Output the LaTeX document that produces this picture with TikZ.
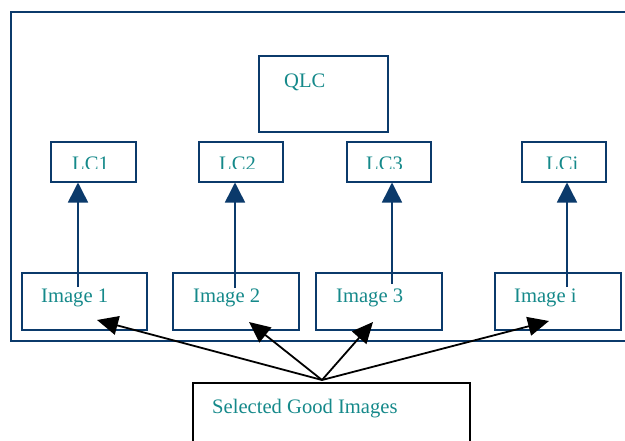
\documentclass[tikz,border=0pt]{standalone}
\usepackage{fontspec}
\setmainfont{Liberation Serif}
\usetikzlibrary{arrows.meta}
\definecolor{boxblue}{HTML}{0B3A6B}
\definecolor{tealtext}{HTML}{15898A}
\tikzset{
  outerframe/.style={draw=boxblue, line width=1.8pt, rectangle, inner sep=0pt, anchor=north west},
  box/.style={draw=boxblue, line width=1.5pt, rectangle, inner sep=0pt, anchor=north west},
  srcbox/.style={draw=black, line width=1.5pt, rectangle, inner sep=0pt, anchor=north west},
  lbl/.style={text=tealtext, font=\fontsize{20.6}{24}\selectfont, anchor=base west, inner sep=0pt},
  varrow/.style={draw=boxblue, line width=1.5pt, -{Triangle[length=20pt,width=20pt]}},
  karrow/.style={draw=black, line width=1.8pt, -{Triangle[length=21pt,width=19pt]}},
}
\begin{document}
\begin{tikzpicture}[x=1pt, y=-1pt]
\useasboundingbox (0,0) rectangle (625,440);
\clip (0,0) rectangle (625,440);

% enclosing frame (runs past the right edge)
\node[outerframe, minimum width=640pt, minimum height=329pt] (frame) at (10,11) {};

% top-level box
\node[box, minimum width=129pt, minimum height=76pt] (qlc) at (258,55) {};
\node[lbl] (qlct) at (284,87) {QLC};

% LC boxes
\node[box, minimum width=85pt, minimum height=40pt] (lc1) at (50,141) {};
\node[box, minimum width=84pt, minimum height=40pt] (lc2) at (198,141) {};
\node[box, minimum width=84pt, minimum height=40pt] (lc3) at (346,141) {};
\node[box, minimum width=84pt, minimum height=40pt] (lci) at (521,141) {};
\begin{scope}
  \clip (0,141) rectangle (625,168.5);
  \node[lbl] (lc1t) at (72,170) {LC1};
  \node[lbl] (lc2t) at (219,170) {LC2};
  \node[lbl] (lc3t) at (366,170) {LC3};
  \node[lbl] (lcit) at (546,170) {LCi};
\end{scope}

% image boxes
\node[box, minimum width=125pt, minimum height=57pt] (img1) at (21,272) {};
\node[box, minimum width=126pt, minimum height=57pt] (img2) at (172,272) {};
\node[box, minimum width=126pt, minimum height=57pt] (img3) at (315,272) {};
\node[box, minimum width=126pt, minimum height=57pt] (imgi) at (494,272) {};
\node[lbl] (img1t) at (41,302) {Image 1};
\node[lbl] (img2t) at (193,302) {Image 2};
\node[lbl] (img3t) at (336,302) {Image 3};
\node[lbl] (imgit) at (514,302) {Image i};

% source box (runs past the bottom edge)
\node[srcbox, minimum width=277pt, minimum height=80pt] (sel) at (192,382) {};
\node[lbl] (selt) at (212,413) {Selected Good Images};

% image -> LC arrows
\coordinate (s1) at (78,287);
\coordinate (s2) at (235,288);
\coordinate (s3) at (392,284);
\coordinate (si) at (567,287);
\draw[varrow] (s1) -- (s1 |- lc1.south);
\draw[varrow] (s2) -- (s2 |- lc2.south);
\draw[varrow] (s3) -- (s3 |- lc3.south);
\draw[varrow] (si) -- (si |- lci.south);

% selected images -> image arrows
\coordinate (apex) at (322,380);
\coordinate (t1) at (97,320);
\coordinate (t2) at (249,322);
\coordinate (t3) at (373,322);
\coordinate (ti) at (549,321);
\draw[karrow] (apex) -- (t1);
\draw[karrow] (apex) -- (t2);
\draw[karrow] (apex) -- (t3);
\draw[karrow] (apex) -- (ti);
\end{tikzpicture}
\end{document}
